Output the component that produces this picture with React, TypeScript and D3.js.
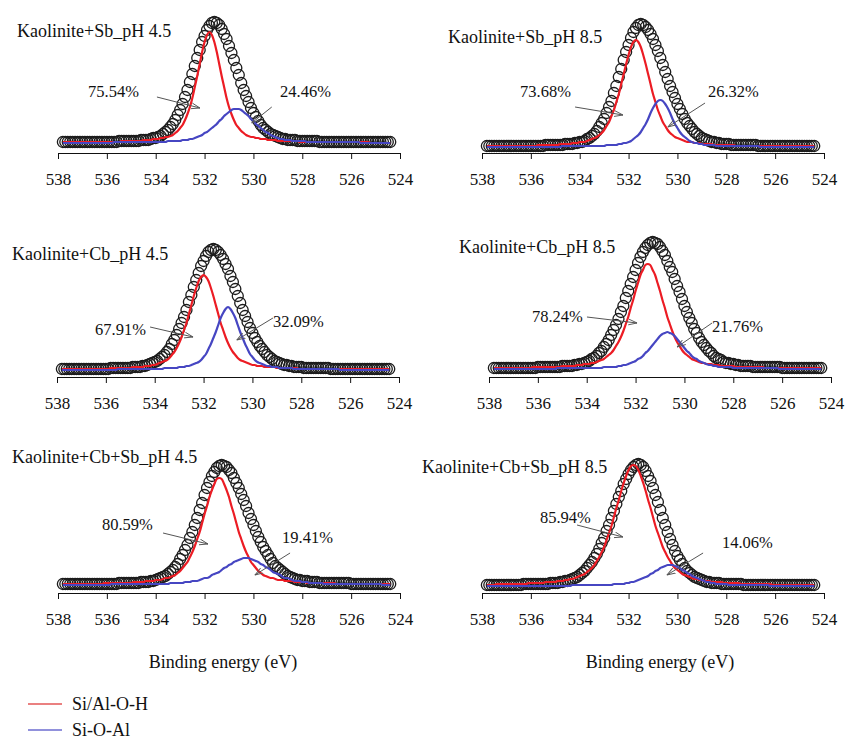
import * as d3 from "d3";
import { useEffect, useRef } from "react";

const WIDTH = 847;
const HEIGHT = 741;
const FONT = "'Liberation Serif', 'DejaVu Serif', serif";
const RED = "#ec1c24";
const BLUE = "#4646c2";
const AXIS_LEN = 342;

// every spectrum is sampled from 537.8 eV down to 524.4 eV, one point per 0.1 eV
const BE_START = 537.8;
const BE_STEP = 0.1;

const energyTicks = [538, 536, 534, 532, 530, 528, 526, 524];
const seriesNames = ["Si/Al-O-H", "Si-O-Al"];

const sampleTitles = [
  "Kaolinite+Sb_pH 4.5",
  "Kaolinite+Sb_pH 8.5",
  "Kaolinite+Cb_pH 4.5",
  "Kaolinite+Cb_pH 8.5",
  "Kaolinite+Cb+Sb_pH 4.5",
  "Kaolinite+Cb+Sb_pH 8.5",
];
const siAlOHShare = [75.54, 73.68, 67.91, 78.24, 80.59, 85.94];
const siOAlShare = [24.46, 26.32, 32.09, 21.76, 19.41, 14.06];

// Kaolinite+Sb pH 4.5
const sb45Data = [
  11,11,11,11,11,11,11,11,11,11, 11,11,11,11,11,11,11,11,11,11, 11,11,11,
  12,12,12,12,12,12,12,12,12, 13,13,13,13,
  14,15,15,16,17,19,21,23,26,29,33,38,43,49,56,63,71,79,87,95,103,111,117,123,127,130,131,
  130,128,124,119,114,107,100,93,85,78,70,63,57,51,45,40,36,32,28,25,23,21,19,18,17,16,15,14,14,13,13,13,13,
  12,12,12,12,12,12,12,12,12,
  11,11,11,11,11,11,11,11,11,11, 11,11,11,11,11,11,11,11,11,11, 11,11,11,11,11,11,11,11,11,11,
];
const sb45SiAlOH = [
  11,11,11,11,11,11,11,11,11,11, 11,11,11,11,11,11,11,11,11,11, 11,11,11,11,
  12,12,12,12,12,12,12,12,12, 13,13,13,13, 14,14,14, 15,15,16,16,
  17,18,20,22,25,28,33,39,46,55,66,77,89,101,111,118,121,
  118,111,101,89,77,66,55,46,39,33,28,25,22,20,18,17,16,16,15,15,
  14,14,14, 13,13,13,13, 12,12,12,12,12,12,12,12,12,
  11,11,11,11,11,11,11,11,11,11, 11,11,11,11,11,11,11,11,11,11, 11,11,11,11,11,11,11,11,11,
  10,10,10,10,10,10,10,10,10,
];
const sb45SiOAl = [
  10,10,10,10,10,10,10,10,10,10, 10,10,10,10,10,10,10,10,10,10, 10,
  11,11,11,11,11,11,11,11,11,11, 11,11,11,11,11,11,11,11,11,11, 11,11,
  12,12,12,12,12,12, 13,13,13, 14,14,
  15,16,17,18,20,21,23,25,27,29,32,34,37,39,41,43,44,44,
  44,43,41,39,37,34,32,29,27,25,23,21,20,18,17,16,15,14,14,13,13,13,
  12,12,12,12,12,12,
  11,11,11,11,11,11,11,11,11,11, 11,11,11,11,11,11,11,11,11,11, 11,11,
  10,10,10,10,10,10,10,10,10,10, 10,10,10,
];

// Kaolinite+Sb pH 8.5
const sb85Data = [
  7,7,7,7,7,7,7,7,7,7, 7,7,7,7,7,7,7,7,7,7, 7,7,7,7,
  8,8,8,8,8,8,8,8, 9,9,9,9, 10,10,11,11,
  12,14,15,17,19,22,26,30,34,40,46,52,60,67,76,84,93,101,108,115,121,125,128,129,
  128,126,123,119,114,108,102,95,88,81,74,67,61,55,49,44,39,34,30,27,24,21,19,17,15,14,13,12,11,11,10,10,9,9,9,9,
  8,8,8,8,8,8,8,8,8,8,8,
  7,7,7,7,7,7,7,7,7,7, 7,7,7,7,7,7,7,7,7,7, 7,7,7,7,
];
const sb85SiAlOH = [
  7,7,7,7,7,7,7,7,7,7, 7,7,7,7,7,7,7,7,7,7, 7,
  8,8,8,8,8,8,8,8,8, 9,9,9,9,9, 10,10,10, 11,11,11,
  12,13,14,15,16,18,20,23,27,31,37,43,51,59,69,79,89,98,106,111,113,
  111,106,98,89,79,69,59,51,43,37,31,27,23,20,18,16,15,14,13,12,
  11,11,11, 10,10,10, 9,9,9,9,9, 8,8,8,8,8,8,8,8,8,
  7,7,7,7,7,7,7,7,7,7, 7,7,7,7,7,7,7,7,7,7, 7,7,7,7,7,7,7,7,7,7, 7,7,7,
];
const sb85SiOAl = [
  6,6,6,6,6,6,6,6,6,6, 6,6,6,6,6,6,6,6,6,6, 6,6,6,6,6,6,6,6,6,6, 6,
  7,7,7,7,7,7,7,7,7,7, 7,7,7,7,7,7,7,7,
  8,8,8,8,8,
  9,9,10,10,11,12,14,16,18,21,25,29,34,40,45,49,52,53,
  52,49,45,40,34,29,25,21,18,16,14,12,11,10,10,9,9,
  8,8,8,8,8,
  7,7,7,7,7,7,7,7,7,7, 7,7,7,7,7,7,7,7,
  6,6,6,6,6,6,6,6,6,6, 6,6,6,6,6,6,6,6,6,6, 6,6,6,
];

// Kaolinite+Cb pH 4.5
const cb45Data = [
  8,8,8,8,8,8,8,8,8,8, 8,8,8,8,8,8,8,8,8,8,
  9,9,9,9,9,9,9,9,9, 10,10,10,10, 11,11,
  12,13,14,15,16,18,20,22,25,28,33,37,42,48,54,60,67,75,82,90,97,104,111,116,121,125,127,128,
  127,125,122,118,113,108,101,95,88,81,74,67,61,55,49,44,39,35,31,28,25,22,20,18,16,15,14,13,12,12,11,11,10,10,10,10,
  9,9,9,9,9,9,9,9,9,9,9,
  8,8,8,8,8,8,8,8,8,8, 8,8,8,8,8,8,8,8,8,8, 8,8,8,8,8,
];
const cb45SiAlOH = [
  8,8,8,8,8,8,8,8,8,8, 8,8,8,8,8,8,8,8,8,8,
  9,9,9,9,9,9,9,9,9, 10,10,10,10,10, 11,11,11, 12,12,
  13,14,15,16,17,19,22,25,29,34,40,47,54,63,72,81,89,96,100,102,
  100,96,89,81,72,63,54,47,40,34,29,25,22,19,17,16,15,14,13,12,12,
  11,11,11, 10,10,10,10,10, 9,9,9,9,9,9,9,9,9,
  8,8,8,8,8,8,8,8,8,8, 8,8,8,8,8,8,8,8,8,8, 8,8,8,8,8,8,8,8,8,8, 8,8,8,8,8,8,8,8,
];
const cb45SiOAl = [
  7,7,7,7,7,7,7,7,7,7, 7,7,7,7,7,7,7,7,7,7, 7,7,7,
  8,8,8,8,8,8,8,8,8,8, 8,8,8,8,8,8,8,8,8,
  9,9,9,9,9,9, 10,10,10,
  11,11,12,13,14,15,17,20,23,28,33,39,45,52,59,64,68,70,
  68,64,59,52,45,39,33,28,23,20,17,15,14,13,12,11,11,10,10,10,
  9,9,9,9,9,9,
  8,8,8,8,8,8,8,8,8,8, 8,8,8,8,8,8,8,8,8,
  7,7,7,7,7,7,7,7,7,7, 7,7,7,7,7,7,7,7,7,7, 7,
];

// Kaolinite+Cb pH 8.5
const cb85Data = [
  9,9,9,9,9,9,9,9,9,9, 9,9,9,9,9,9,9,9,
  10,10,10,10,10,10,10,10,10,10, 11,11,11,11,11, 12,12,13,13,
  14,15,16,18,19,21,24,26,30,33,37,42,47,52,58,65,71,79,86,93,100,107,114,120,125,129,132,134,135,
  134,133,130,126,122,116,110,105,98,91,85,78,71,65,59,54,48,44,39,35,32,29,26,24,21,19,18,17,15,14,14,13,13,12,12,11,11,11,11,11,
  10,10,10,10,10,10,10,10,10,10,10,10,
  9,9,9,9,9,9,9,9,9,9, 9,9,9,9,9,9,9,
];
const cb85SiAlOH = [
  9,9,9,9,9,9,9,9,9,9, 9,9,9,9,9,9,
  10,10,10,10,10,10,10,10,10,10,10,10, 11,11,11,11,11,11, 12,12,12, 13,13,13, 14,14,
  15,16,17,18,20,22,24,27,31,35,40,46,53,60,69,77,86,94,102,107,112,113,
  112,107,102,94,86,77,69,60,53,46,40,35,31,27,24,22,20,18,17,16,15,14,14,13,13,13,12,12,12,
  11,11,11,11,11,11, 10,10,10,10,10,10,10,10,10,10,10,10,
  9,9,9,9,9,9,9,9,9,9, 9,9,9,9,9,9,9,9,9,9, 9,9,9,9,
];
const cb85SiOAl = [
  8,8,8,8,8,8,8,8,8,8, 8,8,8,8,8,8,8,8,8,8, 8,8,8,8,8,8,
  9,9,9,9,9,9,9,9,9,9, 9,9,9,9,9,9,9,9,9,
  10,10,10,10,10,10,
  11,11,12,12,13,14,15,16,18,19,21,24,26,29,32,35,38,41,43,44,45,
  44,43,41,38,35,32,29,26,24,21,19,18,16,15,14,13,12,12,11,11,
  10,10,10,10,10,10,
  9,9,9,9,9,9,9,9,9,9, 9,9,9,9,9,9,9,9,9,
  8,8,8,8,8,8,8,8,8,8, 8,8,8,8,8,8,8,8,
];

// Kaolinite+Cb+Sb pH 4.5
const cbsb45Data = [
  9,9,9,9,9,9,9,9,9,9, 9,9,9,9,9,9,9,9,9,9, 9,9,9,
  10,10,10,10,10,10,10,10,10, 11,11,11,11, 12,12,
  13,14,15,16,17,19,21,23,26,29,34,38,43,48,55,61,68,75,83,90,98,105,111,117,121,125,127,128,
  127,126,123,120,115,110,105,99,93,87,80,74,68,62,56,51,46,42,38,34,30,27,25,23,21,19,17,16,15,14,13,13,12,12,12,11,11,11,11,
  10,10,10,10,10,10,10,10,10,10,10,10,10,
  9,9,9,9,9,9,9,9,9,9, 9,9,9,9,9,9,9,
];
const cbsb45SiAlOH = [
  9,9,9,9,9,9,9,9,9,9, 9,9,9,9,9,9,9,
  10,10,10,10,10,10,10,10,10,10,10,10, 11,11,11,11,11, 12,12,12,12, 13,13,13,
  14,15,15,16,17,18,20,22,25,28,31,36,41,47,54,61,70,79,87,96,103,109,114,115,
  114,109,103,96,87,79,70,61,54,47,41,36,31,28,25,22,20,18,17,16,15,15,14,13,13,13,12,12,12,12,
  11,11,11,11,11, 10,10,10,10,10,10,10,10,10,10,10,10,
  9,9,9,9,9,9,9,9,9,9, 9,9,9,9,9,9,9,9,9,9, 9,9,9,
];
const cbsb45SiOAl = [
  8,8,8,8,8,8,8,8,8,8, 8,8,8,8,8,8,8,8,8,8,
  9,9,9,9,9,9,9,9,9,9, 9,9,9,9,9,9,9,9,9,9, 9,9,9,9,
  10,10,10,10,10,10, 11,11,11, 12,12,12,
  13,14,15,15,16,18,19,20,21,23,25,26,28,29,31,32,33,34,35,35,
  35,34,33,32,31,29,28,26,25,23,21,20,19,18,16,15,15,14,13,12,12,12,11,11,11,
  10,10,10,10,10,10,
  9,9,9,9,9,9,9,9,9,9, 9,9,9,9,9,9,9,9,9,9, 9,9,9,9,
  8,8,8,8,
];

// Kaolinite+Cb+Sb pH 8.5
const cbsb85Data = [
  8,8,8,8,8,8,8,8,8,8, 8,8,8,8,8,
  9,9,9,9,9,9,9,9,9,9,9, 10,10,10,10, 11,11,12,12,
  13,14,15,16,18,20,22,25,28,31,35,39,44,50,55,62,68,75,82,89,96,102,109,114,119,123,126,128,129,
  128,126,122,117,112,105,98,91,83,75,68,61,54,48,42,37,33,29,25,22,20,18,16,15,14,13,12,11,11,10,10,10,10,
  9,9,9,9,9,9,9,9,9,
  8,8,8,8,8,8,8,8,8,8, 8,8,8,8,8,8,8,8,8,8, 8,8,8,8,8,8,8,8,8,8,
];
const cbsb85SiAlOH = [
  8,8,8,8, 9,9,9,9,9,9,9,9,9,9,9,9,9, 10,10,10,10,10,10,10, 11,11,11,11,11, 12,12,12, 13,13,14,14,
  15,16,17,18,19,21,23,25,28,32,36,41,46,53,60,67,76,85,93,102,110,117,123,127,128,
  127,123,117,110,102,93,85,76,67,60,53,46,41,36,32,28,25,23,21,19,18,17,16,15,14,14,13,13,12,12,12,
  11,11,11,11,11, 10,10,10,10,10,10,10, 9,9,9,9,9,9,9,9,9,9,9,9,9,
  8,8,8,8,8,8,8,8,8,8, 8,8,8,8,8,8,8,8,
];
const cbsb85SiOAl = [
  7,7,7,7,7,7,7,7,7,7, 7,7,7,7,7,7,7,7,7,7, 7,7,7,7,7,7,7,7,7,7, 7,7,7,7,7,
  8,8,8,8,8,8,8,8,8,8, 8,8,8,8,8,8,8,
  9,9,9,9,9,
  10,10,11,11,12,13,14,15,16,17,19,20,22,23,25,26,27,28,28,
  28,27,26,25,23,22,20,19,17,16,15,14,13,12,11,11,10,10,
  9,9,9,9,9,
  8,8,8,8,8,8,8,8,8,8, 8,8,8,8,8,8,8,
  7,7,7,7,7,7,7,7,7,7, 7,7,7,7,7,7,7,7,7,
];

const measured = [sb45Data, sb85Data, cb45Data, cb85Data, cbsb45Data, cbsb85Data];
const siAlOH = [sb45SiAlOH, sb85SiAlOH, cb45SiAlOH, cb85SiAlOH, cbsb45SiAlOH, cbsb85SiAlOH];
const siOAl = [sb45SiOAl, sb85SiOAl, cb45SiOAl, cb85SiOAl, cbsb45SiOAl, cbsb85SiOAl];

// page layout of the six panels (pixels)
const panelLayout = [
  { x0: 58, axisY: 153, titleX: 17, titleY: 37 },
  { x0: 482, axisY: 153, titleX: 448, titleY: 43 },
  { x0: 57, axisY: 377, titleX: 12, titleY: 260 },
  { x0: 489, axisY: 377, titleX: 459, titleY: 253 },
  { x0: 58, axisY: 593, titleX: 12, titleY: 463 },
  { x0: 482, axisY: 593, titleX: 422, titleY: 473 },
];

// label and arrow placement in data units [eV, intensity]
const notes = [
  { l1: [536.77, 56], a1: [[533.95, 56], [532.19, 45]], l2: [528.91, 56], a2: [[529.25, 46], [530.07, 30]] },
  { l1: [536.44, 56], a1: [[534.19, 46], [532.23, 38]], l2: [528.75, 56], a2: [[528.87, 50], [530.39, 26]] },
  { l1: [536.44, 42], a1: [[534.19, 50], [532.43, 40]], l2: [529.16, 50], a2: [[529.16, 59], [530.64, 37]] },
  { l1: [536.24, 55], a1: [[533.99, 60], [531.94, 54]], l2: [528.87, 45], a2: [[528.87, 54], [530.3, 30]] },
  { l1: [536.2, 63], a1: [[533.7, 60], [531.86, 49]], l2: [528.83, 50], a2: [[528.5, 40], [529.94, 18]] },
  { l1: [535.63, 70], a1: [[534.11, 68], [532.23, 56]], l2: [528.18, 45], a2: [[528.95, 40], [530.43, 18]] },
];

const App = () => {
  const svgRef = useRef<SVGSVGElement>(null);

  useEffect(() => {
    document.body.style.margin = "0";
    const svg = d3.select(svgRef.current);
    svg.selectAll("*").remove();
    svg.attr("width", WIDTH).attr("height", HEIGHT).style("background", "#fff").style("display", "block");

    svg
      .append("defs")
      .append("marker")
      .attr("id", "open-arrow")
      .attr("viewBox", "0 0 10 10")
      .attr("refX", 9.5)
      .attr("refY", 5)
      .attr("markerWidth", 9)
      .attr("markerHeight", 9)
      .attr("markerUnits", "userSpaceOnUse")
      .attr("orient", "auto")
      .append("path")
      .attr("d", "M0,1.8 L9.5,5 L0,8.2")
      .attr("fill", "none")
      .attr("stroke", "#555")
      .attr("stroke-width", 1);

    measured.forEach((data, n) => {
      const lay = panelLayout[n];
      const x = d3.scaleLinear().domain([538, 524]).range([lay.x0, lay.x0 + AXIS_LEN]);
      const y = d3.scaleLinear().domain([0, 140]).range([lay.axisY, lay.axisY - 140]);
      const be = (i: number) => BE_START - i * BE_STEP;
      const g = svg.append("g").attr("class", "panel");

      // x-axis
      const ax = g
        .append("g")
        .attr("transform", `translate(0, ${lay.axisY})`)
        .call(
          d3
            .axisBottom(x)
            .tickValues(energyTicks)
            .tickSize(6)
            .tickSizeOuter(0)
            .tickPadding(14)
            .tickFormat(d3.format("d"))
        );
      ax.attr("font-family", FONT).attr("font-size", 17);
      ax.selectAll("text").attr("fill", "#111");
      ax.selectAll("line").attr("stroke", "#111");
      ax.select(".domain").attr("stroke", "#111").attr("stroke-width", 1.2);

      // measured points
      g.append("g")
        .selectAll("circle")
        .data(data)
        .join("circle")
        .attr("cx", (_, i) => x(be(i)))
        .attr("cy", (d) => y(d))
        .attr("r", 5.5)
        .attr("fill", "none")
        .attr("stroke", "#1c1c1c")
        .attr("stroke-width", 1.3);

      const line = d3
        .line<number>()
        .x((_, i) => x(be(i)))
        .y((d) => y(d))
        .curve(d3.curveMonotoneX);

      g.append("path").attr("d", line(siAlOH[n])).attr("fill", "none").attr("stroke", RED).attr("stroke-width", 2.2);
      g.append("path").attr("d", line(siOAl[n])).attr("fill", "none").attr("stroke", BLUE).attr("stroke-width", 2.2);

      // title
      g.append("text")
        .attr("x", lay.titleX)
        .attr("y", lay.titleY)
        .attr("font-family", FONT)
        .attr("font-size", 18)
        .attr("fill", "#111")
        .text(sampleTitles[n]);

      // percentages with arrows
      const note = notes[n];
      [
        { pos: note.l1, arrow: note.a1, value: siAlOHShare[n] },
        { pos: note.l2, arrow: note.a2, value: siOAlShare[n] },
      ].forEach((d) => {
        g.append("text")
          .attr("x", x(d.pos[0]))
          .attr("y", y(d.pos[1]))
          .attr("font-family", FONT)
          .attr("font-size", 16.5)
          .attr("fill", "#111")
          .text(`${d.value.toFixed(2)}%`);
        g.append("line")
          .attr("x1", x(d.arrow[0][0]))
          .attr("y1", y(d.arrow[0][1]))
          .attr("x2", x(d.arrow[1][0]))
          .attr("y2", y(d.arrow[1][1]))
          .attr("stroke", "#555")
          .attr("stroke-width", 1)
          .attr("marker-end", "url(#open-arrow)");
      });
    });

    // axis titles
    [223, 660].forEach((cx) => {
      svg
        .append("text")
        .attr("x", cx)
        .attr("y", 668)
        .attr("text-anchor", "middle")
        .attr("font-family", FONT)
        .attr("font-size", 18)
        .attr("fill", "#111")
        .text("Binding energy (eV)");
    });

    // legend
    const legendColors = ["#e35656", "#6c6cd0"];
    const legend = svg
      .append("g")
      .selectAll("g")
      .data(seriesNames)
      .join("g")
      .attr("transform", (_, i) => `translate(28, ${704 + i * 26})`);
    legend
      .append("line")
      .attr("x1", 0)
      .attr("x2", 34)
      .attr("stroke", (_, i) => legendColors[i])
      .attr("stroke-width", 1.4);
    legend
      .append("text")
      .attr("x", 44)
      .attr("y", 6)
      .attr("font-family", FONT)
      .attr("font-size", 18)
      .attr("fill", "#111")
      .text((d) => d);
  }, []);

  return <svg ref={svgRef} />;
};

export default App;
